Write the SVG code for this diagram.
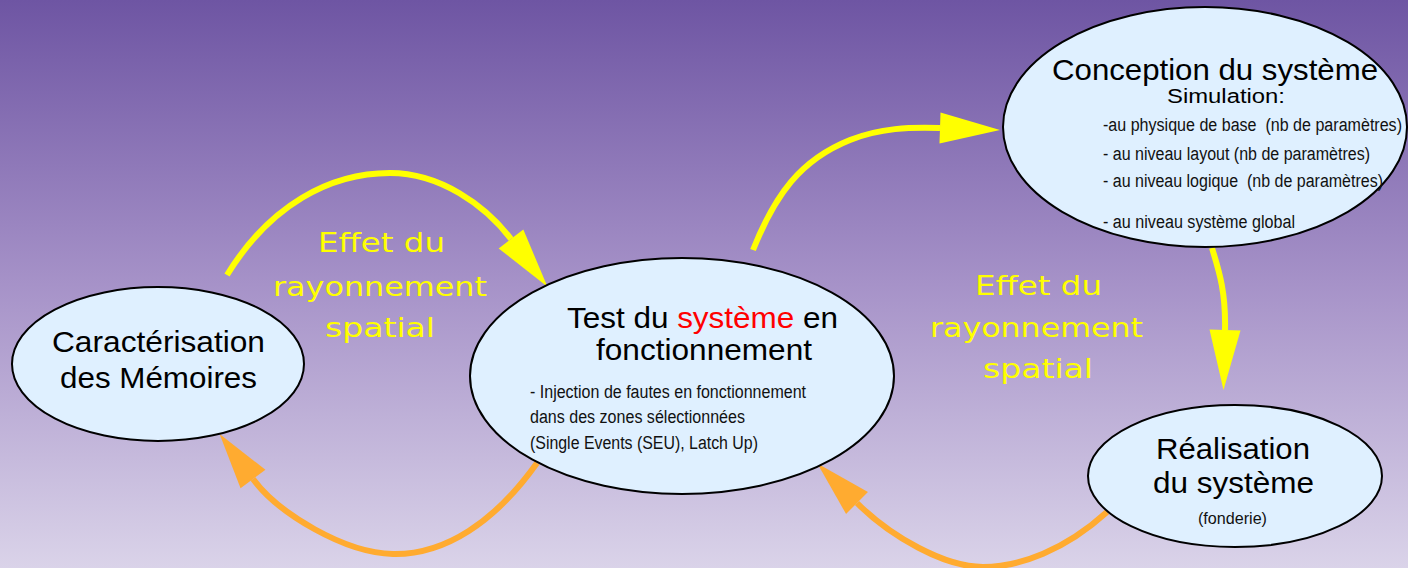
<svg xmlns="http://www.w3.org/2000/svg" width="1408" height="568" viewBox="0 0 1408 568">
  <defs>
    <linearGradient id="bg" x1="0" y1="0" x2="0" y2="1">
      <stop offset="0" stop-color="#6e55a3"/>
      <stop offset="0.5" stop-color="#a692c8"/>
      <stop offset="1" stop-color="#dad3e9"/>
    </linearGradient>
    <marker id="headYellow" markerUnits="userSpaceOnUse" markerWidth="60" markerHeight="31" refX="0" refY="15.5" orient="auto" overflow="visible">
      <path d="M0,0 L60,15.5 L0,31 Z" fill="#ffff00"/>
    </marker>
    <marker id="headOrange" markerUnits="userSpaceOnUse" markerWidth="56" markerHeight="31" refX="0" refY="15.5" orient="auto" overflow="visible">
      <path d="M0,0 L56,15.5 L0,31 Z" fill="#ffab30"/>
    </marker>
    <style>
      .node { fill: #dff0ff; stroke: #000; stroke-width: 2; }
      .title { font-family: "Liberation Sans", Arial, sans-serif; font-size: 30px; fill: #000; }
      .small { font-family: "Liberation Sans Narrow", "Liberation Sans", Arial, sans-serif; font-size: 18px; fill: #111; white-space: pre; }
      .label { font-family: "DejaVu Sans", Verdana, sans-serif; font-size: 27px; fill: #ffff00; }
      .yellow { fill: none; stroke: #ffff00; stroke-width: 6; marker-end: url(#headYellow); }
      .orange { fill: none; stroke: #ffab30; stroke-width: 6; marker-end: url(#headOrange); }
    </style>
  </defs>

  <rect x="0" y="0" width="1408" height="568" fill="url(#bg)"/>

  <!-- flow arrows between the stages -->
  <g id="connectors">
    <path class="yellow" d="M227,275 C270,205 330,173 390,173 C440,173 485,205 511,239"/>
    <path class="yellow" d="M753,250 C775,195 800,160 850,140 C880,128 910,127 940,128"/>
    <path class="yellow" d="M1212,248 C1218,268 1226,290 1225,330"/>
    <path class="orange" d="M537,463 C495,522 445,555 393,554 C345,553 279,514 253,479"/>
    <path class="orange" d="M1107,512 C1065,550 1020,567 983,567 C945,567 891,537 857,503"/>
  </g>

  <!-- radiation labels -->
  <g id="label-left">
    <text class="label" x="318" y="252" textLength="127" lengthAdjust="spacingAndGlyphs">Effet du</text>
    <text class="label" x="273" y="296" textLength="214" lengthAdjust="spacingAndGlyphs">rayonnement</text>
    <text class="label" x="325" y="337" textLength="110" lengthAdjust="spacingAndGlyphs">spatial</text>
  </g>
  <g id="label-right">
    <text class="label" x="975" y="295" textLength="127" lengthAdjust="spacingAndGlyphs">Effet du</text>
    <text class="label" x="930" y="337" textLength="213" lengthAdjust="spacingAndGlyphs">rayonnement</text>
    <text class="label" x="983" y="378" textLength="110" lengthAdjust="spacingAndGlyphs">spatial</text>
  </g>

  <g id="node-memoires">
    <ellipse class="node" cx="158" cy="364" rx="146" ry="77"/>
    <text class="title" x="52" y="352" textLength="213" lengthAdjust="spacingAndGlyphs">Caractérisation</text>
    <text class="title" x="60" y="388" textLength="197" lengthAdjust="spacingAndGlyphs">des Mémoires</text>
  </g>

  <g id="node-test">
    <ellipse class="node" cx="682" cy="376" rx="212" ry="118"/>
    <text class="title" x="567" y="328" textLength="271" lengthAdjust="spacingAndGlyphs">Test du <tspan fill="#ff0000">système</tspan> en</text>
    <text class="title" x="596" y="360" textLength="216" lengthAdjust="spacingAndGlyphs">fonctionnement</text>
    <text class="small" x="530" y="398" textLength="276" lengthAdjust="spacingAndGlyphs">- Injection de fautes en fonctionnement</text>
    <text class="small" x="530" y="423" textLength="215" lengthAdjust="spacingAndGlyphs">dans des zones sélectionnées</text>
    <text class="small" x="530" y="449" textLength="228" lengthAdjust="spacingAndGlyphs">(Single Events (SEU), Latch Up)</text>
  </g>

  <g id="node-conception">
    <ellipse class="node" cx="1205" cy="127" rx="202" ry="120"/>
    <text class="title" x="1052" y="80" textLength="326" lengthAdjust="spacingAndGlyphs">Conception du système</text>
    <text class="title" x="1167" y="103" style="font-size:20px" textLength="118" lengthAdjust="spacingAndGlyphs">Simulation:</text>
    <text class="small" xml:space="preserve" x="1103" y="131" textLength="299" lengthAdjust="spacingAndGlyphs">-au physique de base  (nb de paramètres)</text>
    <text class="small" x="1103" y="160" textLength="267" lengthAdjust="spacingAndGlyphs">- au niveau layout (nb de paramètres)</text>
    <text class="small" xml:space="preserve" x="1103" y="187" textLength="280" lengthAdjust="spacingAndGlyphs">- au niveau logique  (nb de paramètres)</text>
    <text class="small" x="1103" y="228" textLength="192" lengthAdjust="spacingAndGlyphs">- au niveau système global</text>
  </g>

  <g id="node-realisation">
    <ellipse class="node" cx="1235" cy="476" rx="147" ry="71"/>
    <text class="title" x="1156" y="459" textLength="154" lengthAdjust="spacingAndGlyphs">Réalisation</text>
    <text class="title" x="1153" y="493" textLength="161" lengthAdjust="spacingAndGlyphs">du système</text>
    <text class="small" x="1198" y="524" style="font-size:16px" textLength="69" lengthAdjust="spacingAndGlyphs">(fonderie)</text>
  </g>
</svg>
